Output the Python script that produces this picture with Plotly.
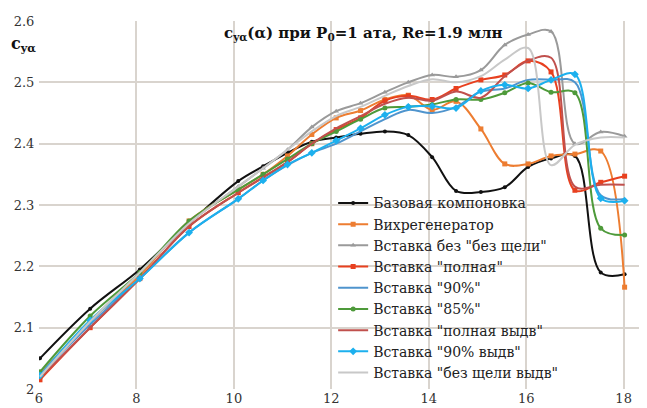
import plotly.graph_objects as go

alpha = [6.02, 7.05, 8.07, 9.08, 10.09, 10.6, 11.1, 11.6, 12.1, 12.6, 13.1, 13.58,
         14.07, 14.56, 15.07, 15.56, 16.04, 16.51, 17.0, 17.53, 18.02]

base = [2.050, 2.131, 2.195, 2.270, 2.339, 2.363, 2.385, 2.403, 2.410, 2.416, 2.420, 2.414,
        2.378, 2.323, 2.321, 2.329, 2.362, 2.376, 2.380, 2.190, 2.187]
vortex = [2.025, 2.110, 2.185, 2.274, 2.325, 2.350, 2.380, 2.415, 2.442, 2.454, 2.472, 2.479,
          2.455, 2.469, 2.424, 2.367, 2.367, 2.380, 2.383, 2.388, 2.166]
noslot = [2.020, 2.110, 2.190, 2.270, 2.330, 2.360, 2.390, 2.427, 2.453, 2.466, 2.484, 2.500,
          2.512, 2.509, 2.520, 2.561, 2.578, 2.583, 2.400, 2.419, 2.412]
full = [2.015, 2.100, 2.180, 2.265, 2.320, 2.345, 2.370, 2.400, 2.423, 2.442, 2.470, 2.478,
        2.472, 2.490, 2.504, 2.512, 2.535, 2.517, 2.324, 2.337, 2.347]
p90 = [2.022, 2.105, 2.180, 2.255, 2.310, 2.340, 2.365, 2.385, 2.400, 2.420, 2.440, 2.455,
       2.450, 2.460, 2.485, 2.490, 2.504, 2.504, 2.500, 2.316, 2.310]
p85 = [2.028, 2.119, 2.190, 2.274, 2.325, 2.350, 2.375, 2.400, 2.420, 2.440, 2.458, 2.460,
       2.464, 2.472, 2.472, 2.483, 2.499, 2.484, 2.483, 2.262, 2.251]
full_ext = [2.018, 2.100, 2.180, 2.265, 2.320, 2.345, 2.370, 2.400, 2.425, 2.445, 2.465, 2.475,
            2.470, 2.485, 2.475, 2.510, 2.535, 2.540, 2.330, 2.333, 2.333]
p90_ext = [2.022, 2.112, 2.180, 2.255, 2.310, 2.340, 2.366, 2.385, 2.405, 2.425, 2.447, 2.460,
           2.461, 2.458, 2.486, 2.496, 2.490, 2.504, 2.513, 2.311, 2.307]
noslot_ext = [2.020, 2.110, 2.190, 2.270, 2.330, 2.360, 2.390, 2.420, 2.445, 2.460, 2.478, 2.494,
              2.505, 2.500, 2.510, 2.537, 2.556, 2.365, 2.398, 2.410, 2.410]

names = ['Базовая компоновка', 'Вихрегенератор', 'Вставка без "без щели"', 'Вставка "полная"',
         'Вставка "90%"', 'Вставка "85%"', 'Вставка "полная выдв"', 'Вставка "90% выдв"',
         'Вставка "без щели выдв"']
series = [base, vortex, noslot, full, p90, p85, full_ext, p90_ext, noslot_ext]
colors = ['#111111', '#ED7D31', '#9A9A9A', '#E8401F', '#4F94CD', '#4E9A3A', '#C0504D',
          '#1CB0EE', '#C8C8C8']
symbols = ['circle', 'square', 'triangle-up', 'square', None, 'circle', None, 'diamond', None]
msizes = [4, 5, 5, 5, 0, 5, 0, 6, 0]

SERIF = 'DejaVu Serif'

fig = go.Figure()
for nm, ys, c, s, ms in zip(names, series, colors, symbols, msizes):
    if s is None:
        fig.add_trace(go.Scatter(x=alpha, y=ys, name=nm, mode='lines',
                                 line=dict(color=c, width=2, shape='spline', smoothing=1.0)))
    else:
        fig.add_trace(go.Scatter(x=alpha, y=ys, name=nm, mode='lines+markers',
                                 line=dict(color=c, width=2, shape='spline', smoothing=1.0),
                                 marker=dict(symbol=s, size=ms, color=c)))

grid = '#d9d4ce'
fig.update_layout(
    width=647, height=408,
    margin=dict(l=31, r=7, t=13, b=27),
    paper_bgcolor='white', plot_bgcolor='white',
    font=dict(family=SERIF, size=13, color='#333333'),
    showlegend=True,
    legend=dict(x=0.483, y=0.548, xanchor='left', yanchor='top',
                bgcolor='rgba(0,0,0,0)', font=dict(family=SERIF, size=14, color='#222222'),
                tracegroupgap=0, itemwidth=30),
    xaxis=dict(range=[6, 18.5], tickvals=[6, 8, 10, 12, 14, 16, 18], showgrid=True,
               gridcolor=grid, gridwidth=1.5, zeroline=False, showline=False, automargin=False,
               ticks='', tickfont=dict(family=SERIF, size=13, color='#333333')),
    yaxis=dict(range=[2.0, 2.6], tickvals=[2.0, 2.1, 2.2, 2.3, 2.4, 2.5, 2.6],
               ticktext=['2', '2.1', '2.2', '2.3', '2.4', '2.5', '2.6'], showgrid=True,
               gridcolor=grid, gridwidth=1.5, zeroline=False, showline=False, automargin=False,
               ticks='outside', ticklen=1, tickcolor='rgba(0,0,0,0)',
               tickfont=dict(family=SERIF, size=13, color='#333333')),
    shapes=[dict(type='rect', xref='paper', yref='paper', x0=0.527, x1=0.862, y0=0.0, y1=0.503,
                 fillcolor='white', line=dict(width=0), layer='between'),
            dict(type='rect', xref='paper', yref='paper', x0=0.305, x1=0.72, y0=0.925, y1=0.995,
                 fillcolor='white', line=dict(width=0), layer='between')],
)

fig.add_annotation(xref='paper', yref='paper', x=0.30, y=0.965, xanchor='left', yanchor='middle',
                   text='<b>c<sub>yα</sub>(α) при P<sub>0</sub>=1 ата, Re=1.9 млн</b>',
                   showarrow=False,
                   font=dict(family=SERIF, size=15, color='#111111'))
fig.add_annotation(xref='paper', yref='paper', x=-0.05, y=0.935, xanchor='left', yanchor='middle',
                   text='<b>c<sub>yα</sub></b>', showarrow=False,
                   font=dict(family=SERIF, size=16, color='#111111'))
fig.add_annotation(xref='paper', yref='paper', x=0.995, y=-0.038, xanchor='center', yanchor='middle',
                   text='<b>α</b>', showarrow=False,
                   font=dict(family=SERIF, size=16, color='#111111'))

fig.write_html('out.html')
